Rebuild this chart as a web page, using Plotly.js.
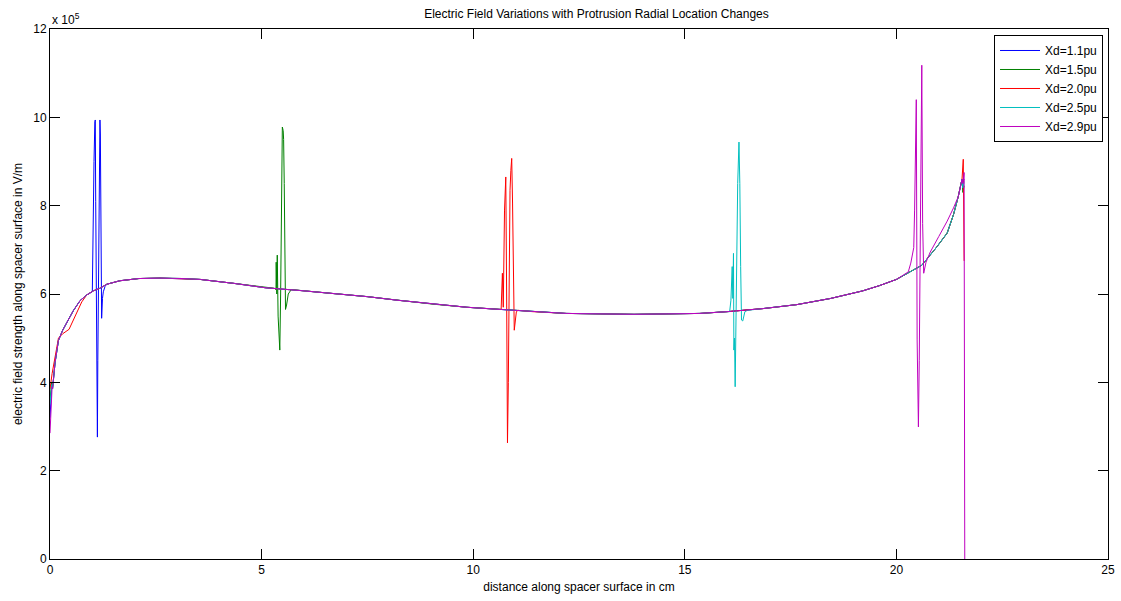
<!DOCTYPE html>
<html>
<head>
<meta charset="utf-8">
<script src="https://cdn.plot.ly/plotly-3.0.1.min.js"></script>
<style>
  html, body { margin: 0; padding: 0; background: #fff; }
  #chart { width: 1121px; height: 601px; }
</style>
</head>
<body>
<div id="chart"></div>
<script>
// ---- Shared smooth curve (x in cm, y in 1e5 V/m) ----
const baseX = [0.06, 0.12, 0.2, 0.3, 0.43, 0.55, 0.71, 0.87, 1.02, 1.18, 1.34, 1.65, 2.1, 2.6, 3.15, 3.55, 4.35, 5.1, 5.9, 6.7, 7.5, 8.2, 9.05, 9.85, 10.65, 11.4, 12.2, 13.0, 13.8, 14.6, 15.35, 16.0, 16.85, 17.65, 18.45, 19.2, 19.6, 20.0, 20.32, 20.6, 20.95, 21.2, 21.35, 21.46, 21.55];
const baseY = [3.85, 4.45, 4.95, 5.18, 5.41, 5.62, 5.85, 5.98, 6.07, 6.13, 6.22, 6.3, 6.35, 6.36, 6.35, 6.33, 6.24, 6.14, 6.08, 6.01, 5.94, 5.86, 5.77, 5.70, 5.65, 5.60, 5.56, 5.55, 5.54, 5.55, 5.56, 5.60, 5.67, 5.76, 5.90, 6.07, 6.19, 6.33, 6.5, 6.65, 7.06, 7.38, 7.8, 8.2, 8.6];

// ---- Xd = 1.1 pu ----
const blueStartX = [0, 0.04];
const blueStartY = [3.2, 3.9];
const blueSpikeX = [1.00, 1.01, 1.03, 1.04, 1.06, 1.07, 1.08, 1.09, 1.10, 1.11, 1.12, 1.13, 1.15, 1.16, 1.18, 1.19, 1.20, 1.21, 1.22, 1.24, 1.26, 1.30];
const blueSpikeY = [6.05, 7.15, 8.1, 9.0, 9.9, 9.94, 8.1, 6.0, 4.6, 4.2, 2.76, 4.5, 7.15, 8.9, 9.94, 9.6, 8.0, 6.0, 5.45, 5.9, 6.05, 6.17];
const blueEndX = [21.57, 21.6];
const blueEndY = [8.5, 8.6];

// ---- Xd = 1.5 pu ----
const greenStartX = [0, 0.04];
const greenStartY = [3.6, 4.0];
const greenSpikeX = [5.30, 5.34, 5.345, 5.36, 5.37, 5.39, 5.42, 5.43, 5.45, 5.47, 5.49, 5.51, 5.52, 5.535, 5.55, 5.565, 5.59, 5.63, 5.7];
const greenSpikeY = [6.13, 6.1, 6.72, 6.0, 6.88, 5.5, 4.9, 4.73, 6.0, 8.5, 9.78, 9.7, 9.5, 8.5, 6.5, 5.65, 5.75, 6.0, 6.1];
const greenEndX = [21.57, 21.6];
const greenEndY = [8.3, 8.45];

// ---- Xd = 2.0 pu ----
const redStartX = [0, 0.05, 0.2, 0.3, 0.45, 0.6, 0.75];
const redStartY = [3.85, 4.2, 5.0, 5.1, 5.2, 5.5, 5.82];
const redSpikeX = [10.66, 10.69, 10.71, 10.74, 10.77, 10.79, 10.81, 10.83, 10.85, 10.87, 10.89, 10.91, 10.93, 10.95, 10.97, 11.02, 11.06];
const redSpikeY = [5.65, 6.47, 5.7, 7.9, 8.65, 6.0, 2.63, 4.0, 6.7, 8.35, 8.8, 9.07, 8.06, 6.09, 5.18, 5.6, 5.63];
const redEndX = [21.56, 21.58, 21.6];
const redEndY = [8.7, 9.05, 6.75];

// ---- Xd = 2.5 pu ----
const cyanStartX = [0, 0.04];
const cyanStartY = [3.5, 3.95];
const cyanSpikeX = [16.06, 16.09, 16.12, 16.135, 16.15, 16.16, 16.175, 16.19, 16.205, 16.22, 16.25, 16.28, 16.3, 16.32, 16.34, 16.37, 16.42, 16.48];
const cyanSpikeY = [5.6, 5.86, 6.62, 5.9, 6.92, 4.73, 5.0, 3.9, 5.5, 6.7, 8.5, 9.44, 8.5, 6.62, 5.41, 5.39, 5.6, 5.63];
const cyanEndX = [21.57, 21.6];
const cyanEndY = [8.4, 8.55];

// ---- Xd = 2.9 pu ----
const magStartX = [0, 0.02, 0.05];
const magStartY = [2.85, 3.5, 3.9];
const magSpikeX = [20.28, 20.34, 20.37, 20.41, 20.43, 20.45, 20.47, 20.49, 20.52, 20.54, 20.56, 20.58, 20.6, 20.62, 20.645, 20.7, 20.8, 21.0, 21.2, 21.35];
const magSpikeY = [6.5, 6.7, 6.9, 7.05, 7.9, 9.55, 10.4, 4.96, 2.99, 4.5, 7.6, 10.1, 11.18, 7.6, 6.47, 6.72, 6.95, 7.3, 7.65, 7.95];
const magEndX = [21.57, 21.6, 21.605, 21.61, 21.615];
const magEndY = [8.5, 8.75, 6.7, 2.24, 0];

const seriesNames = ['Xd=1.1pu', 'Xd=1.5pu', 'Xd=2.0pu', 'Xd=2.5pu', 'Xd=2.9pu'];
const seriesColors = ['#0000FF', '#008000', '#FF0000', '#00BFBF', '#BF00BF'];

// Merge the shared curve with each series' own read segments
function build(segments) {
  const pts = [];
  baseX.forEach((x, i) => {
    const inside = segments.some(s => x >= Math.min(...s[0]) && x <= Math.max(...s[0]));
    if (!inside) pts.push([x, baseY[i]]);
  });
  segments.forEach(s => s[0].forEach((x, i) => pts.push([x, s[1][i]])));
  pts.sort((a, b) => a[0] - b[0]);
  return { x: pts.map(p => p[0]), y: pts.map(p => p[1] * 1e5) };
}

const allSegs = [
  [[blueStartX, blueStartY], [blueSpikeX, blueSpikeY], [blueEndX, blueEndY]],
  [[greenStartX, greenStartY], [greenSpikeX, greenSpikeY], [greenEndX, greenEndY]],
  [[redStartX, redStartY], [redSpikeX, redSpikeY], [redEndX, redEndY]],
  [[cyanStartX, cyanStartY], [cyanSpikeX, cyanSpikeY], [cyanEndX, cyanEndY]],
  [[magStartX, magStartY], [magSpikeX, magSpikeY], [magEndX, magEndY]]
];

const traces = allSegs.map((segs, k) => {
  const d = build(segs);
  return {
    type: 'scatter', mode: 'lines', name: seriesNames[k],
    x: d.x, y: d.y,
    line: { color: seriesColors[k], width: 1 }
  };
});

const yTickVals = [0, 2, 4, 6, 8, 10, 12].map(v => v * 1e5);
const yTickText = ['0', '2', '4', '6', '8', '10', '12'];

const font = { family: 'Liberation Sans, Arial, sans-serif', size: 12, color: '#000' };

const layout = {
  width: 1121, height: 601,
  margin: { l: 50, r: 13, t: 29, b: 42 },
  paper_bgcolor: '#fff', plot_bgcolor: '#fff',
  font: font,
  showlegend: true,
  title: {
    text: 'Electric Field Variations with Protrusion Radial Location Changes',
    font: { family: font.family, size: 12, color: '#000' },
    x: 0.5165, xanchor: 'center', xref: 'paper',
    y: 0.977, yanchor: 'middle', yref: 'container'
  },
  xaxis: {
    range: [0, 25], tickvals: [0, 5, 10, 15, 20, 25],
    ticks: 'inside', ticklen: 10, tickcolor: '#000', tickwidth: 1,
    showline: true, linecolor: '#000', linewidth: 1, mirror: 'ticks',
    showgrid: false, zeroline: false,
    tickfont: font,
    title: { text: 'distance along spacer surface in cm', font: font, standoff: 6 }
  },
  yaxis: {
    range: [0, 12e5], tickvals: yTickVals, ticktext: yTickText,
    ticks: 'inside', ticklen: 10, tickcolor: '#000', tickwidth: 1,
    showline: true, linecolor: '#000', linewidth: 1, mirror: 'ticks',
    showgrid: false, zeroline: false,
    tickfont: font,
    title: { text: 'electric field strength along spacer surface in V/m', font: font, standoff: 8 }
  },
  legend: {
    x: 0.9953, xanchor: 'right', y: 0.9887, yanchor: 'top',
    bgcolor: '#fff', bordercolor: '#000', borderwidth: 1,
    font: { family: font.family, size: 12, color: '#000' },
    itemwidth: 40,
    tracegroupgap: 0
  },
  annotations: [{
    xref: 'paper', yref: 'paper', x: 0, y: 1, xanchor: 'left', yanchor: 'bottom',
    yshift: 0, showarrow: false,
    text: 'x 10<sup>5</sup>', font: font
  }]
};

Plotly.newPlot('chart', traces, layout, { displayModeBar: false, staticPlot: true });
</script>
</body>
</html>
